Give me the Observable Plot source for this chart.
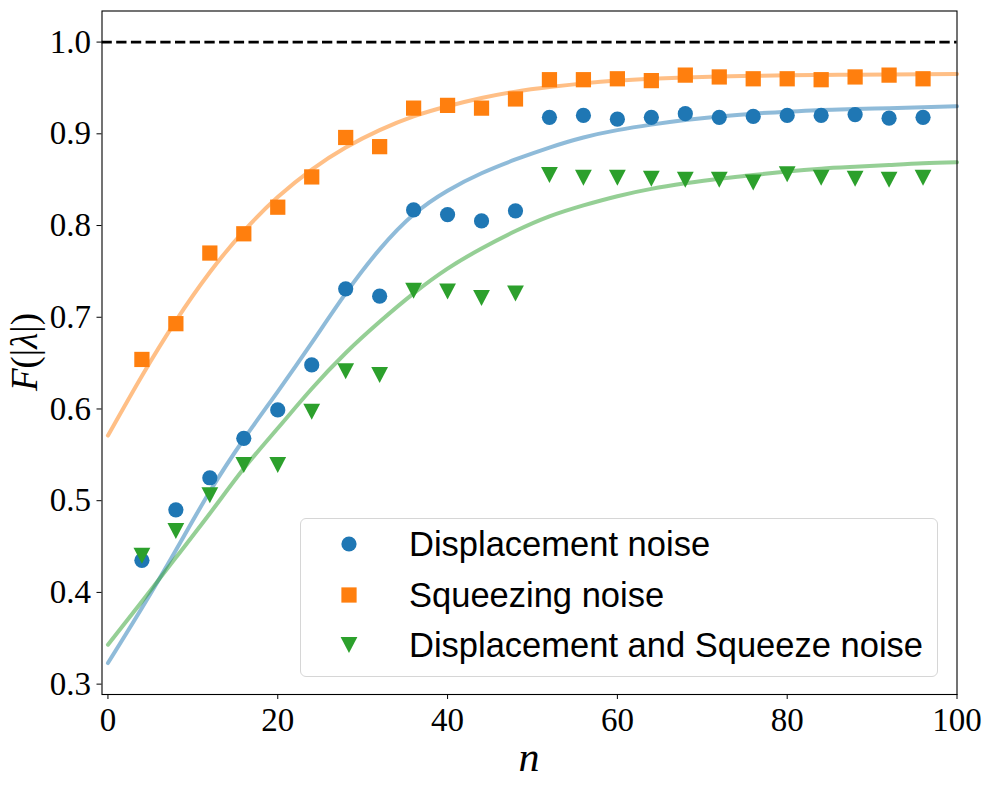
<!DOCTYPE html>
<html>
<head>
<meta charset="utf-8">
<script src="https://cdn.jsdelivr.net/npm/d3@7"></script>
<script src="https://cdn.jsdelivr.net/npm/@observablehq/plot@0.6"></script>
<style>
  body { margin: 0; background: #fff; }
  #wrap { position: relative; width: 990px; height: 790px; overflow: hidden; }
  #wrap > svg { position: absolute; left: 0; top: 0; }
  .legend { position: absolute; left: 300px; top: 517.5px; width: 638px; height: 159px;
            border: 1px solid #d6d6d6; border-radius: 6px; background: rgba(255,255,255,0.8);
            box-sizing: border-box; }
  .legtext { position: absolute; left: 108px; font-family: "Liberation Sans", Arial, sans-serif;
             font-size: 34.5px; line-height: 34px; white-space: nowrap; color: #000; }
  #wrap .legend svg.legsym { position: absolute; left: 37.5px; width: 20px; height: 20px; overflow: visible; }
  .ylab { position: absolute; left: 24.5px; top: 352px; width: 200px; height: 40px; line-height: 40px;
          font-family: "Liberation Serif", serif; font-size: 37px; text-align: center; color: #000;
          transform: translate(-50%, -50%) rotate(-90deg); white-space: nowrap; }
  .xlab { position: absolute; left: 429px; top: 737px; width: 200px; line-height: 40px;
          font-family: "Liberation Serif", serif; font-size: 42px; font-style: italic; text-align: center; color: #000; }
</style>
</head>
<body>
<div id="wrap"></div>
<script>
// ---- data ----
const nPoints = [4, 8, 12, 16, 20, 24, 28, 32, 36, 40, 44, 48, 52, 56, 60, 64, 68, 72, 76, 80, 84, 88, 92, 96];
const displacementNoise = [0.435, 0.490, 0.525, 0.568, 0.599, 0.648, 0.731, 0.723, 0.817, 0.812, 0.805, 0.816,
                           0.918, 0.920, 0.916, 0.918, 0.922, 0.918, 0.919, 0.920, 0.920, 0.921, 0.917, 0.918];
const squeezingNoise = [0.654, 0.693, 0.770, 0.791, 0.820, 0.853, 0.896, 0.886, 0.928, 0.931, 0.928, 0.938,
                        0.959, 0.959, 0.960, 0.958, 0.964, 0.962, 0.960, 0.960, 0.959, 0.962, 0.964, 0.960];
const bothNoise = [0.440, 0.467, 0.506, 0.539, 0.539, 0.597, 0.641, 0.637, 0.729, 0.728, 0.721, 0.726,
                   0.855, 0.852, 0.852, 0.851, 0.850, 0.850, 0.847, 0.856, 0.852, 0.851, 0.850, 0.852];

const nFit = [0, 4, 8, 12, 16, 20, 24, 28, 32, 36, 40, 44, 48, 52, 56, 60, 64, 68, 72, 76, 80, 84, 88, 92, 96, 100];
const fitDisplacement = [0.323, 0.383, 0.446, 0.510, 0.567, 0.619, 0.672, 0.726, 0.774, 0.812, 0.838, 0.857, 0.872,
                         0.885, 0.896, 0.904, 0.910, 0.915, 0.919, 0.922, 0.924, 0.926, 0.927, 0.928, 0.929, 0.930];
const fitSqueezing = [0.571, 0.636, 0.696, 0.749, 0.794, 0.831, 0.861, 0.885, 0.904, 0.919, 0.930, 0.939, 0.946,
                      0.951, 0.955, 0.958, 0.960, 0.9615, 0.9625, 0.9632, 0.9638, 0.9642, 0.9645, 0.9648, 0.965, 0.9651];
const fitBoth = [0.343, 0.390, 0.438, 0.486, 0.535, 0.579, 0.622, 0.661, 0.695, 0.726, 0.753, 0.775, 0.794,
                 0.810, 0.822, 0.832, 0.840, 0.846, 0.851, 0.855, 0.859, 0.862, 0.864, 0.866, 0.868, 0.869];

const seriesNames = ["Displacement noise", "Squeezing noise", "Displacement and Squeeze noise"];
const seriesColors = ["#1f77b4", "#ff7f0e", "#2ca02c"];
const xTicks = [0, 20, 40, 60, 80, 100];
const yTicks = [0.3, 0.4, 0.5, 0.6, 0.7, 0.8, 0.9, 1.0];
const idealLevel = [1.0];

// ---- build tables ----
const pts = (ys) => nPoints.map((n, i) => ({n, v: ys[i]}));
const fit = (ys) => nFit.map((n, i) => ({n, v: ys[i]}));

const triangleDown = {
  draw(ctx, size) {
    const r = Math.sqrt(size / Math.PI);
    const w = r * 1.05, h = r;
    ctx.moveTo(0, h);
    ctx.lineTo(-w, -h);
    ctx.lineTo(w, -h);
    ctx.closePath();
  }
};
const symbols = [d3.symbolCircle, d3.symbolSquare, triangleDown];
const radii = [7.6, 8.6, 8.0];
const pointSets = [displacementNoise, squeezingNoise, bothNoise];
const fitSets = [fitDisplacement, fitSqueezing, fitBoth];

const font = "Liberation Serif";

const chart = Plot.plot({
  width: 990,
  height: 790,
  marginLeft: 101.5,
  marginRight: 33.5,
  marginTop: 10.5,
  marginBottom: 96,
  style: {fontFamily: font, fontSize: "33px", color: "#000", background: "transparent", overflow: "visible"},
  x: {domain: [-0.7, 100]},
  y: {domain: [0.2887, 1.0339]},
  marks: [
    Plot.ruleY(idealLevel, {stroke: "#000", strokeWidth: 2.8, strokeDasharray: "10.3,4.4"}),
    ...fitSets.map((ys, i) => Plot.line(fit(ys), {
      x: "n", y: "v", stroke: seriesColors[i], strokeOpacity: 0.5, strokeWidth: 4, curve: "natural"
    })),
    ...pointSets.map((ys, i) => Plot.dot(pts(ys), {
      x: "n", y: "v", fill: seriesColors[i], stroke: "none", r: radii[i], symbol: symbols[i]
    })),
    Plot.frame({stroke: "#000", strokeWidth: 1.1}),
    Plot.axisX({ticks: xTicks, tickFormat: d => String(d), tickSize: 5, tickPadding: 8,
                fontSize: 33, fontFamily: font, label: null, stroke: "#000"}),
    Plot.axisY({ticks: yTicks, tickFormat: d => d.toFixed(1), tickSize: 5, tickPadding: 6,
                fontSize: 33, fontFamily: font, label: null, stroke: "#000"})
  ]
});

const wrap = document.getElementById("wrap");
wrap.appendChild(chart);

// axis labels
const ylab = document.createElement("div");
ylab.className = "ylab";
ylab.innerHTML = '<span style="font-style:italic">F</span>(|<span style="font-style:italic">λ</span>|)';
wrap.appendChild(ylab);
const xlab = document.createElement("div");
xlab.className = "xlab";
xlab.textContent = "n";
wrap.appendChild(xlab);

// legend
const legend = document.createElement("div");
legend.className = "legend";
const rowY = [25.8, 76.8, 126.8];
seriesNames.forEach((name, i) => {
  const svgNS = "http://www.w3.org/2000/svg";
  const s = document.createElementNS(svgNS, "svg");
  s.setAttribute("class", "legsym");
  s.setAttribute("width", 20); s.setAttribute("height", 20);
  s.style.top = (rowY[i] - 10) + "px";
  const p = document.createElementNS(svgNS, "path");
  p.setAttribute("d", d3.symbol(symbols[i], Math.PI * radii[i] * radii[i])());
  p.setAttribute("transform", "translate(10,10)");
  p.setAttribute("fill", seriesColors[i]);
  s.appendChild(p);
  legend.appendChild(s);
  const t = document.createElement("div");
  t.className = "legtext";
  t.style.top = (rowY[i] - 17) + "px";
  t.textContent = name;
  legend.appendChild(t);
});
wrap.appendChild(legend);
</script>
</body>
</html>
